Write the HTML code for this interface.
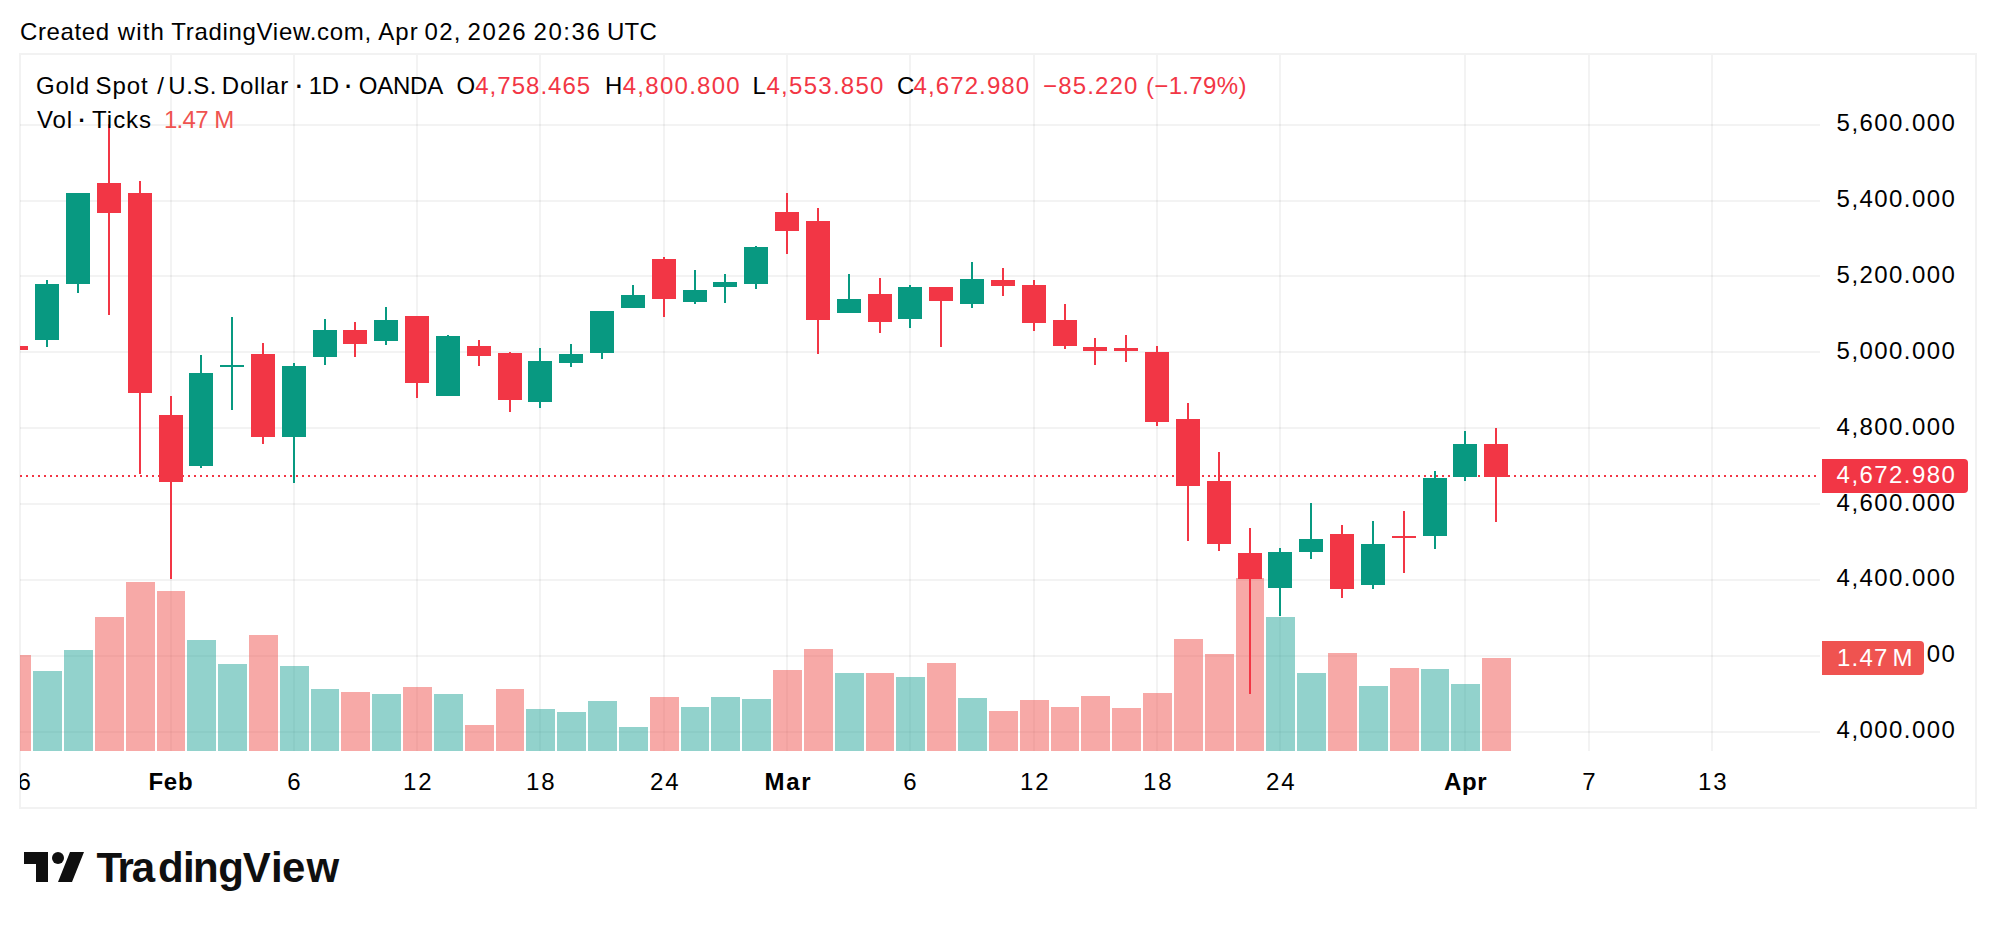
<!DOCTYPE html>
<html lang="en"><head><meta charset="utf-8"><title>XAUUSD chart</title>
<style>
html,body{margin:0;padding:0;background:#fff;}
body{width:1996px;height:928px;overflow:hidden;position:relative;}
svg{position:absolute;left:0;top:0;display:block;}
text{font-family:"Liberation Sans",sans-serif;font-size:24px;fill:#000;}
.r{fill:#F23645}.g{fill:#089981}.vr{fill:rgba(239,83,80,0.5)}.vg{fill:rgba(38,166,154,0.5)}.gr{fill:rgba(46,46,46,0.06)}
.tr{fill:#F23645}.tv{fill:#EF5350}.w{fill:#fff}.b{font-weight:bold}
</style></head><body>
<svg width="1996" height="928" viewBox="0 0 1996 928">
<defs><clipPath id="c42"><rect x="1926" y="630" width="60" height="50"/></clipPath><clipPath id="pane"><rect x="20" y="55" width="1800" height="696"/></clipPath></defs>
<g shape-rendering="crispEdges">
<path fill="#F2F2F2" fill-rule="evenodd" d="M19 53H1977V809H19Z M21 55V807H1975V55Z"/>
<g class="gr">
<rect x="20" y="124" width="1800" height="2"/>
<rect x="20" y="200" width="1800" height="2"/>
<rect x="20" y="275" width="1800" height="2"/>
<rect x="20" y="351" width="1800" height="2"/>
<rect x="20" y="427" width="1800" height="2"/>
<rect x="20" y="503" width="1800" height="2"/>
<rect x="20" y="579" width="1800" height="2"/>
<rect x="20" y="655" width="1800" height="2"/>
<rect x="20" y="731" width="1800" height="2"/>
<rect x="170" y="55" width="2" height="696"/>
<rect x="293" y="55" width="2" height="696"/>
<rect x="416" y="55" width="2" height="696"/>
<rect x="539" y="55" width="2" height="696"/>
<rect x="663" y="55" width="2" height="696"/>
<rect x="786" y="55" width="2" height="696"/>
<rect x="909" y="55" width="2" height="696"/>
<rect x="1033" y="55" width="2" height="696"/>
<rect x="1156" y="55" width="2" height="696"/>
<rect x="1279" y="55" width="2" height="696"/>
<rect x="1464" y="55" width="2" height="696"/>
<rect x="1588" y="55" width="2" height="696"/>
<rect x="1711" y="55" width="2" height="696"/>
</g>
<g clip-path="url(#pane)">
<rect class="vr" x="2" y="655" width="29" height="96"/>
<rect class="vg" x="33" y="671" width="29" height="80"/>
<rect class="vg" x="64" y="650" width="29" height="101"/>
<rect class="vr" x="95" y="617" width="29" height="134"/>
<rect class="vr" x="126" y="582" width="29" height="169"/>
<rect class="vr" x="157" y="591" width="28" height="160"/>
<rect class="vg" x="187" y="640" width="29" height="111"/>
<rect class="vg" x="218" y="664" width="29" height="87"/>
<rect class="vr" x="249" y="635" width="29" height="116"/>
<rect class="vg" x="280" y="666" width="29" height="85"/>
<rect class="vg" x="311" y="689" width="28" height="62"/>
<rect class="vr" x="341" y="692" width="29" height="59"/>
<rect class="vg" x="372" y="694" width="29" height="57"/>
<rect class="vr" x="403" y="687" width="29" height="64"/>
<rect class="vg" x="434" y="694" width="29" height="57"/>
<rect class="vr" x="465" y="725" width="29" height="26"/>
<rect class="vr" x="496" y="689" width="28" height="62"/>
<rect class="vg" x="526" y="709" width="29" height="42"/>
<rect class="vg" x="557" y="712" width="29" height="39"/>
<rect class="vg" x="588" y="701" width="29" height="50"/>
<rect class="vg" x="619" y="727" width="29" height="24"/>
<rect class="vr" x="650" y="697" width="29" height="54"/>
<rect class="vg" x="681" y="707" width="28" height="44"/>
<rect class="vg" x="711" y="697" width="29" height="54"/>
<rect class="vg" x="742" y="699" width="29" height="52"/>
<rect class="vr" x="773" y="670" width="29" height="81"/>
<rect class="vr" x="804" y="649" width="29" height="102"/>
<rect class="vg" x="835" y="673" width="29" height="78"/>
<rect class="vr" x="866" y="673" width="28" height="78"/>
<rect class="vg" x="896" y="677" width="29" height="74"/>
<rect class="vr" x="927" y="663" width="29" height="88"/>
<rect class="vg" x="958" y="698" width="29" height="53"/>
<rect class="vr" x="989" y="711" width="29" height="40"/>
<rect class="vr" x="1020" y="700" width="29" height="51"/>
<rect class="vr" x="1051" y="707" width="28" height="44"/>
<rect class="vr" x="1081" y="696" width="29" height="55"/>
<rect class="vr" x="1112" y="708" width="29" height="43"/>
<rect class="vr" x="1143" y="693" width="29" height="58"/>
<rect class="vr" x="1174" y="639" width="29" height="112"/>
<rect class="vr" x="1205" y="654" width="29" height="97"/>
<rect class="vr" x="1236" y="578" width="28" height="173"/>
<rect class="vg" x="1266" y="617" width="29" height="134"/>
<rect class="vg" x="1297" y="673" width="29" height="78"/>
<rect class="vr" x="1328" y="653" width="29" height="98"/>
<rect class="vg" x="1359" y="686" width="29" height="65"/>
<rect class="vr" x="1390" y="668" width="29" height="83"/>
<rect class="vg" x="1421" y="669" width="28" height="82"/>
<rect class="vg" x="1451" y="684" width="29" height="67"/>
<rect class="vr" x="1482" y="658" width="29" height="93"/>
</g>
<g class="r">
<rect x="20" y="475" width="2" height="2"/>
<rect x="26" y="475" width="2" height="2"/>
<rect x="32" y="475" width="2" height="2"/>
<rect x="38" y="475" width="2" height="2"/>
<rect x="44" y="475" width="2" height="2"/>
<rect x="50" y="475" width="2" height="2"/>
<rect x="56" y="475" width="2" height="2"/>
<rect x="62" y="475" width="2" height="2"/>
<rect x="68" y="475" width="2" height="2"/>
<rect x="74" y="475" width="2" height="2"/>
<rect x="80" y="475" width="2" height="2"/>
<rect x="86" y="475" width="2" height="2"/>
<rect x="92" y="475" width="2" height="2"/>
<rect x="98" y="475" width="2" height="2"/>
<rect x="104" y="475" width="2" height="2"/>
<rect x="110" y="475" width="2" height="2"/>
<rect x="116" y="475" width="2" height="2"/>
<rect x="122" y="475" width="2" height="2"/>
<rect x="128" y="475" width="2" height="2"/>
<rect x="134" y="475" width="2" height="2"/>
<rect x="140" y="475" width="2" height="2"/>
<rect x="146" y="475" width="2" height="2"/>
<rect x="152" y="475" width="2" height="2"/>
<rect x="158" y="475" width="2" height="2"/>
<rect x="164" y="475" width="2" height="2"/>
<rect x="170" y="475" width="2" height="2"/>
<rect x="176" y="475" width="2" height="2"/>
<rect x="182" y="475" width="2" height="2"/>
<rect x="188" y="475" width="2" height="2"/>
<rect x="194" y="475" width="2" height="2"/>
<rect x="200" y="475" width="2" height="2"/>
<rect x="206" y="475" width="2" height="2"/>
<rect x="212" y="475" width="2" height="2"/>
<rect x="218" y="475" width="2" height="2"/>
<rect x="224" y="475" width="2" height="2"/>
<rect x="230" y="475" width="2" height="2"/>
<rect x="236" y="475" width="2" height="2"/>
<rect x="242" y="475" width="2" height="2"/>
<rect x="248" y="475" width="2" height="2"/>
<rect x="254" y="475" width="2" height="2"/>
<rect x="260" y="475" width="2" height="2"/>
<rect x="266" y="475" width="2" height="2"/>
<rect x="272" y="475" width="2" height="2"/>
<rect x="278" y="475" width="2" height="2"/>
<rect x="284" y="475" width="2" height="2"/>
<rect x="290" y="475" width="2" height="2"/>
<rect x="296" y="475" width="2" height="2"/>
<rect x="302" y="475" width="2" height="2"/>
<rect x="308" y="475" width="2" height="2"/>
<rect x="314" y="475" width="2" height="2"/>
<rect x="320" y="475" width="2" height="2"/>
<rect x="326" y="475" width="2" height="2"/>
<rect x="332" y="475" width="2" height="2"/>
<rect x="338" y="475" width="2" height="2"/>
<rect x="344" y="475" width="2" height="2"/>
<rect x="350" y="475" width="2" height="2"/>
<rect x="356" y="475" width="2" height="2"/>
<rect x="362" y="475" width="2" height="2"/>
<rect x="368" y="475" width="2" height="2"/>
<rect x="374" y="475" width="2" height="2"/>
<rect x="380" y="475" width="2" height="2"/>
<rect x="386" y="475" width="2" height="2"/>
<rect x="392" y="475" width="2" height="2"/>
<rect x="398" y="475" width="2" height="2"/>
<rect x="404" y="475" width="2" height="2"/>
<rect x="410" y="475" width="2" height="2"/>
<rect x="416" y="475" width="2" height="2"/>
<rect x="422" y="475" width="2" height="2"/>
<rect x="428" y="475" width="2" height="2"/>
<rect x="434" y="475" width="2" height="2"/>
<rect x="440" y="475" width="2" height="2"/>
<rect x="446" y="475" width="2" height="2"/>
<rect x="452" y="475" width="2" height="2"/>
<rect x="458" y="475" width="2" height="2"/>
<rect x="464" y="475" width="2" height="2"/>
<rect x="470" y="475" width="2" height="2"/>
<rect x="476" y="475" width="2" height="2"/>
<rect x="482" y="475" width="2" height="2"/>
<rect x="488" y="475" width="2" height="2"/>
<rect x="494" y="475" width="2" height="2"/>
<rect x="500" y="475" width="2" height="2"/>
<rect x="506" y="475" width="2" height="2"/>
<rect x="512" y="475" width="2" height="2"/>
<rect x="518" y="475" width="2" height="2"/>
<rect x="524" y="475" width="2" height="2"/>
<rect x="530" y="475" width="2" height="2"/>
<rect x="536" y="475" width="2" height="2"/>
<rect x="542" y="475" width="2" height="2"/>
<rect x="548" y="475" width="2" height="2"/>
<rect x="554" y="475" width="2" height="2"/>
<rect x="560" y="475" width="2" height="2"/>
<rect x="566" y="475" width="2" height="2"/>
<rect x="572" y="475" width="2" height="2"/>
<rect x="578" y="475" width="2" height="2"/>
<rect x="584" y="475" width="2" height="2"/>
<rect x="590" y="475" width="2" height="2"/>
<rect x="596" y="475" width="2" height="2"/>
<rect x="602" y="475" width="2" height="2"/>
<rect x="608" y="475" width="2" height="2"/>
<rect x="614" y="475" width="2" height="2"/>
<rect x="620" y="475" width="2" height="2"/>
<rect x="626" y="475" width="2" height="2"/>
<rect x="632" y="475" width="2" height="2"/>
<rect x="638" y="475" width="2" height="2"/>
<rect x="644" y="475" width="2" height="2"/>
<rect x="650" y="475" width="2" height="2"/>
<rect x="656" y="475" width="2" height="2"/>
<rect x="662" y="475" width="2" height="2"/>
<rect x="668" y="475" width="2" height="2"/>
<rect x="674" y="475" width="2" height="2"/>
<rect x="680" y="475" width="2" height="2"/>
<rect x="686" y="475" width="2" height="2"/>
<rect x="692" y="475" width="2" height="2"/>
<rect x="698" y="475" width="2" height="2"/>
<rect x="704" y="475" width="2" height="2"/>
<rect x="710" y="475" width="2" height="2"/>
<rect x="716" y="475" width="2" height="2"/>
<rect x="722" y="475" width="2" height="2"/>
<rect x="728" y="475" width="2" height="2"/>
<rect x="734" y="475" width="2" height="2"/>
<rect x="740" y="475" width="2" height="2"/>
<rect x="746" y="475" width="2" height="2"/>
<rect x="752" y="475" width="2" height="2"/>
<rect x="758" y="475" width="2" height="2"/>
<rect x="764" y="475" width="2" height="2"/>
<rect x="770" y="475" width="2" height="2"/>
<rect x="776" y="475" width="2" height="2"/>
<rect x="782" y="475" width="2" height="2"/>
<rect x="788" y="475" width="2" height="2"/>
<rect x="794" y="475" width="2" height="2"/>
<rect x="800" y="475" width="2" height="2"/>
<rect x="806" y="475" width="2" height="2"/>
<rect x="812" y="475" width="2" height="2"/>
<rect x="818" y="475" width="2" height="2"/>
<rect x="824" y="475" width="2" height="2"/>
<rect x="830" y="475" width="2" height="2"/>
<rect x="836" y="475" width="2" height="2"/>
<rect x="842" y="475" width="2" height="2"/>
<rect x="848" y="475" width="2" height="2"/>
<rect x="854" y="475" width="2" height="2"/>
<rect x="860" y="475" width="2" height="2"/>
<rect x="866" y="475" width="2" height="2"/>
<rect x="872" y="475" width="2" height="2"/>
<rect x="878" y="475" width="2" height="2"/>
<rect x="884" y="475" width="2" height="2"/>
<rect x="890" y="475" width="2" height="2"/>
<rect x="896" y="475" width="2" height="2"/>
<rect x="902" y="475" width="2" height="2"/>
<rect x="908" y="475" width="2" height="2"/>
<rect x="914" y="475" width="2" height="2"/>
<rect x="920" y="475" width="2" height="2"/>
<rect x="926" y="475" width="2" height="2"/>
<rect x="932" y="475" width="2" height="2"/>
<rect x="938" y="475" width="2" height="2"/>
<rect x="944" y="475" width="2" height="2"/>
<rect x="950" y="475" width="2" height="2"/>
<rect x="956" y="475" width="2" height="2"/>
<rect x="962" y="475" width="2" height="2"/>
<rect x="968" y="475" width="2" height="2"/>
<rect x="974" y="475" width="2" height="2"/>
<rect x="980" y="475" width="2" height="2"/>
<rect x="986" y="475" width="2" height="2"/>
<rect x="992" y="475" width="2" height="2"/>
<rect x="998" y="475" width="2" height="2"/>
<rect x="1004" y="475" width="2" height="2"/>
<rect x="1010" y="475" width="2" height="2"/>
<rect x="1016" y="475" width="2" height="2"/>
<rect x="1022" y="475" width="2" height="2"/>
<rect x="1028" y="475" width="2" height="2"/>
<rect x="1034" y="475" width="2" height="2"/>
<rect x="1040" y="475" width="2" height="2"/>
<rect x="1046" y="475" width="2" height="2"/>
<rect x="1052" y="475" width="2" height="2"/>
<rect x="1058" y="475" width="2" height="2"/>
<rect x="1064" y="475" width="2" height="2"/>
<rect x="1070" y="475" width="2" height="2"/>
<rect x="1076" y="475" width="2" height="2"/>
<rect x="1082" y="475" width="2" height="2"/>
<rect x="1088" y="475" width="2" height="2"/>
<rect x="1094" y="475" width="2" height="2"/>
<rect x="1100" y="475" width="2" height="2"/>
<rect x="1106" y="475" width="2" height="2"/>
<rect x="1112" y="475" width="2" height="2"/>
<rect x="1118" y="475" width="2" height="2"/>
<rect x="1124" y="475" width="2" height="2"/>
<rect x="1130" y="475" width="2" height="2"/>
<rect x="1136" y="475" width="2" height="2"/>
<rect x="1142" y="475" width="2" height="2"/>
<rect x="1148" y="475" width="2" height="2"/>
<rect x="1154" y="475" width="2" height="2"/>
<rect x="1160" y="475" width="2" height="2"/>
<rect x="1166" y="475" width="2" height="2"/>
<rect x="1172" y="475" width="2" height="2"/>
<rect x="1178" y="475" width="2" height="2"/>
<rect x="1184" y="475" width="2" height="2"/>
<rect x="1190" y="475" width="2" height="2"/>
<rect x="1196" y="475" width="2" height="2"/>
<rect x="1202" y="475" width="2" height="2"/>
<rect x="1208" y="475" width="2" height="2"/>
<rect x="1214" y="475" width="2" height="2"/>
<rect x="1220" y="475" width="2" height="2"/>
<rect x="1226" y="475" width="2" height="2"/>
<rect x="1232" y="475" width="2" height="2"/>
<rect x="1238" y="475" width="2" height="2"/>
<rect x="1244" y="475" width="2" height="2"/>
<rect x="1250" y="475" width="2" height="2"/>
<rect x="1256" y="475" width="2" height="2"/>
<rect x="1262" y="475" width="2" height="2"/>
<rect x="1268" y="475" width="2" height="2"/>
<rect x="1274" y="475" width="2" height="2"/>
<rect x="1280" y="475" width="2" height="2"/>
<rect x="1286" y="475" width="2" height="2"/>
<rect x="1292" y="475" width="2" height="2"/>
<rect x="1298" y="475" width="2" height="2"/>
<rect x="1304" y="475" width="2" height="2"/>
<rect x="1310" y="475" width="2" height="2"/>
<rect x="1316" y="475" width="2" height="2"/>
<rect x="1322" y="475" width="2" height="2"/>
<rect x="1328" y="475" width="2" height="2"/>
<rect x="1334" y="475" width="2" height="2"/>
<rect x="1340" y="475" width="2" height="2"/>
<rect x="1346" y="475" width="2" height="2"/>
<rect x="1352" y="475" width="2" height="2"/>
<rect x="1358" y="475" width="2" height="2"/>
<rect x="1364" y="475" width="2" height="2"/>
<rect x="1370" y="475" width="2" height="2"/>
<rect x="1376" y="475" width="2" height="2"/>
<rect x="1382" y="475" width="2" height="2"/>
<rect x="1388" y="475" width="2" height="2"/>
<rect x="1394" y="475" width="2" height="2"/>
<rect x="1400" y="475" width="2" height="2"/>
<rect x="1406" y="475" width="2" height="2"/>
<rect x="1412" y="475" width="2" height="2"/>
<rect x="1418" y="475" width="2" height="2"/>
<rect x="1424" y="475" width="2" height="2"/>
<rect x="1430" y="475" width="2" height="2"/>
<rect x="1436" y="475" width="2" height="2"/>
<rect x="1442" y="475" width="2" height="2"/>
<rect x="1448" y="475" width="2" height="2"/>
<rect x="1454" y="475" width="2" height="2"/>
<rect x="1460" y="475" width="2" height="2"/>
<rect x="1466" y="475" width="2" height="2"/>
<rect x="1472" y="475" width="2" height="2"/>
<rect x="1478" y="475" width="2" height="2"/>
<rect x="1484" y="475" width="2" height="2"/>
<rect x="1490" y="475" width="2" height="2"/>
<rect x="1496" y="475" width="2" height="2"/>
<rect x="1502" y="475" width="2" height="2"/>
<rect x="1508" y="475" width="2" height="2"/>
<rect x="1514" y="475" width="2" height="2"/>
<rect x="1520" y="475" width="2" height="2"/>
<rect x="1526" y="475" width="2" height="2"/>
<rect x="1532" y="475" width="2" height="2"/>
<rect x="1538" y="475" width="2" height="2"/>
<rect x="1544" y="475" width="2" height="2"/>
<rect x="1550" y="475" width="2" height="2"/>
<rect x="1556" y="475" width="2" height="2"/>
<rect x="1562" y="475" width="2" height="2"/>
<rect x="1568" y="475" width="2" height="2"/>
<rect x="1574" y="475" width="2" height="2"/>
<rect x="1580" y="475" width="2" height="2"/>
<rect x="1586" y="475" width="2" height="2"/>
<rect x="1592" y="475" width="2" height="2"/>
<rect x="1598" y="475" width="2" height="2"/>
<rect x="1604" y="475" width="2" height="2"/>
<rect x="1610" y="475" width="2" height="2"/>
<rect x="1616" y="475" width="2" height="2"/>
<rect x="1622" y="475" width="2" height="2"/>
<rect x="1628" y="475" width="2" height="2"/>
<rect x="1634" y="475" width="2" height="2"/>
<rect x="1640" y="475" width="2" height="2"/>
<rect x="1646" y="475" width="2" height="2"/>
<rect x="1652" y="475" width="2" height="2"/>
<rect x="1658" y="475" width="2" height="2"/>
<rect x="1664" y="475" width="2" height="2"/>
<rect x="1670" y="475" width="2" height="2"/>
<rect x="1676" y="475" width="2" height="2"/>
<rect x="1682" y="475" width="2" height="2"/>
<rect x="1688" y="475" width="2" height="2"/>
<rect x="1694" y="475" width="2" height="2"/>
<rect x="1700" y="475" width="2" height="2"/>
<rect x="1706" y="475" width="2" height="2"/>
<rect x="1712" y="475" width="2" height="2"/>
<rect x="1718" y="475" width="2" height="2"/>
<rect x="1724" y="475" width="2" height="2"/>
<rect x="1730" y="475" width="2" height="2"/>
<rect x="1736" y="475" width="2" height="2"/>
<rect x="1742" y="475" width="2" height="2"/>
<rect x="1748" y="475" width="2" height="2"/>
<rect x="1754" y="475" width="2" height="2"/>
<rect x="1760" y="475" width="2" height="2"/>
<rect x="1766" y="475" width="2" height="2"/>
<rect x="1772" y="475" width="2" height="2"/>
<rect x="1778" y="475" width="2" height="2"/>
<rect x="1784" y="475" width="2" height="2"/>
<rect x="1790" y="475" width="2" height="2"/>
<rect x="1796" y="475" width="2" height="2"/>
<rect x="1802" y="475" width="2" height="2"/>
<rect x="1808" y="475" width="2" height="2"/>
<rect x="1814" y="475" width="2" height="2"/>
</g>
<g clip-path="url(#pane)">
<rect class="r" x="4" y="346" width="24" height="4"/>
<rect class="g" x="46" y="280" width="2" height="67"/>
<rect class="g" x="35" y="284" width="24" height="56"/>
<rect class="g" x="77" y="193" width="2" height="100"/>
<rect class="g" x="66" y="193" width="24" height="91"/>
<rect class="r" x="108" y="124" width="2" height="191"/>
<rect class="r" x="97" y="183" width="24" height="30"/>
<rect class="r" x="139" y="181" width="2" height="293"/>
<rect class="r" x="128" y="193" width="24" height="200"/>
<rect class="r" x="170" y="396" width="2" height="183"/>
<rect class="r" x="159" y="415" width="24" height="67"/>
<rect class="g" x="200" y="355" width="2" height="113"/>
<rect class="g" x="189" y="373" width="24" height="93"/>
<rect class="g" x="231" y="317" width="2" height="93"/>
<rect class="g" x="220" y="365" width="24" height="2"/>
<rect class="r" x="262" y="343" width="2" height="101"/>
<rect class="r" x="251" y="354" width="24" height="83"/>
<rect class="g" x="293" y="363" width="2" height="120"/>
<rect class="g" x="282" y="366" width="24" height="71"/>
<rect class="g" x="324" y="319" width="2" height="46"/>
<rect class="g" x="313" y="330" width="24" height="27"/>
<rect class="r" x="354" y="322" width="2" height="35"/>
<rect class="r" x="343" y="330" width="24" height="14"/>
<rect class="g" x="385" y="307" width="2" height="38"/>
<rect class="g" x="374" y="320" width="24" height="21"/>
<rect class="r" x="416" y="316" width="2" height="82"/>
<rect class="r" x="405" y="316" width="24" height="67"/>
<rect class="g" x="447" y="335" width="2" height="61"/>
<rect class="g" x="436" y="336" width="24" height="60"/>
<rect class="r" x="478" y="340" width="2" height="26"/>
<rect class="r" x="467" y="346" width="24" height="10"/>
<rect class="r" x="509" y="352" width="2" height="60"/>
<rect class="r" x="498" y="353" width="24" height="47"/>
<rect class="g" x="539" y="348" width="2" height="60"/>
<rect class="g" x="528" y="361" width="24" height="41"/>
<rect class="g" x="570" y="344" width="2" height="23"/>
<rect class="g" x="559" y="354" width="24" height="9"/>
<rect class="g" x="601" y="311" width="2" height="48"/>
<rect class="g" x="590" y="311" width="24" height="42"/>
<rect class="g" x="632" y="285" width="2" height="23"/>
<rect class="g" x="621" y="295" width="24" height="13"/>
<rect class="r" x="663" y="257" width="2" height="60"/>
<rect class="r" x="652" y="259" width="24" height="40"/>
<rect class="g" x="694" y="270" width="2" height="34"/>
<rect class="g" x="683" y="290" width="24" height="12"/>
<rect class="g" x="724" y="274" width="2" height="29"/>
<rect class="g" x="713" y="282" width="24" height="5"/>
<rect class="g" x="755" y="246" width="2" height="43"/>
<rect class="g" x="744" y="247" width="24" height="37"/>
<rect class="r" x="786" y="193" width="2" height="61"/>
<rect class="r" x="775" y="212" width="24" height="19"/>
<rect class="r" x="817" y="208" width="2" height="146"/>
<rect class="r" x="806" y="221" width="24" height="99"/>
<rect class="g" x="848" y="274" width="2" height="39"/>
<rect class="g" x="837" y="299" width="24" height="14"/>
<rect class="r" x="879" y="278" width="2" height="55"/>
<rect class="r" x="868" y="294" width="24" height="28"/>
<rect class="g" x="909" y="285" width="2" height="43"/>
<rect class="g" x="898" y="287" width="24" height="32"/>
<rect class="r" x="940" y="287" width="2" height="60"/>
<rect class="r" x="929" y="287" width="24" height="14"/>
<rect class="g" x="971" y="262" width="2" height="46"/>
<rect class="g" x="960" y="279" width="24" height="25"/>
<rect class="r" x="1002" y="268" width="2" height="28"/>
<rect class="r" x="991" y="280" width="24" height="6"/>
<rect class="r" x="1033" y="280" width="2" height="51"/>
<rect class="r" x="1022" y="285" width="24" height="38"/>
<rect class="r" x="1064" y="304" width="2" height="45"/>
<rect class="r" x="1053" y="320" width="24" height="26"/>
<rect class="r" x="1094" y="338" width="2" height="27"/>
<rect class="r" x="1083" y="347" width="24" height="4"/>
<rect class="r" x="1125" y="335" width="2" height="27"/>
<rect class="r" x="1114" y="348" width="24" height="3"/>
<rect class="r" x="1156" y="346" width="2" height="80"/>
<rect class="r" x="1145" y="352" width="24" height="70"/>
<rect class="r" x="1187" y="403" width="2" height="138"/>
<rect class="r" x="1176" y="419" width="24" height="67"/>
<rect class="r" x="1218" y="452" width="2" height="99"/>
<rect class="r" x="1207" y="481" width="24" height="63"/>
<rect class="r" x="1249" y="528" width="2" height="166"/>
<rect class="r" x="1238" y="553" width="24" height="26"/>
<rect class="g" x="1279" y="548" width="2" height="68"/>
<rect class="g" x="1268" y="552" width="24" height="36"/>
<rect class="g" x="1310" y="503" width="2" height="56"/>
<rect class="g" x="1299" y="539" width="24" height="13"/>
<rect class="r" x="1341" y="525" width="2" height="73"/>
<rect class="r" x="1330" y="534" width="24" height="55"/>
<rect class="g" x="1372" y="521" width="2" height="68"/>
<rect class="g" x="1361" y="544" width="24" height="41"/>
<rect class="r" x="1403" y="511" width="2" height="62"/>
<rect class="r" x="1392" y="536" width="24" height="2"/>
<rect class="g" x="1434" y="471" width="2" height="78"/>
<rect class="g" x="1423" y="478" width="24" height="58"/>
<rect class="g" x="1464" y="431" width="2" height="50"/>
<rect class="g" x="1453" y="444" width="24" height="33"/>
<rect class="r" x="1495" y="428" width="2" height="94"/>
<rect class="r" x="1484" y="444" width="24" height="33"/>
</g>
</g>
<text x="1836.6" y="131.0" textLength="118.3">5,600.000</text>
<text x="1836.6" y="206.9" textLength="118.3">5,400.000</text>
<text x="1836.6" y="282.8" textLength="118.3">5,200.000</text>
<text x="1836.6" y="358.7" textLength="118.3">5,000.000</text>
<text x="1836.6" y="434.6" textLength="118.3">4,800.000</text>
<text x="1836.6" y="510.5" textLength="118.3">4,600.000</text>
<text x="1836.6" y="586.4" textLength="118.3">4,400.000</text>
<text x="1836.6" y="662.3" textLength="118.3" clip-path="url(#c42)">4,200.000</text>
<text x="1836.6" y="738.2" textLength="118.3">4,000.000</text>
<path fill="#F23645" d="M1822 459H1964a4 4 0 0 1 4 4V489a4 4 0 0 1 -4 4H1822Z"/>
<text class="w" x="1836.6" y="483.3" textLength="118.3">4,672.980</text>
<path fill="#EF5350" d="M1822 641H1920a4 4 0 0 1 4 4V671a4 4 0 0 1 -4 4H1822Z"/>
<g clip-path="url(#axisclip)">
<defs><clipPath id="axisclip"><rect x="20" y="752" width="1800" height="55"/></clipPath></defs>
<text x="17.5" y="790" text-anchor="middle">26</text>
<text x="170.5" y="790" text-anchor="middle" textLength="44.2" class="b">Feb</text>
<text x="294" y="790" text-anchor="middle">6</text>
<text x="417.3" y="790" text-anchor="middle" textLength="28.7">12</text>
<text x="540.3" y="790" text-anchor="middle" textLength="28.7">18</text>
<text x="664.3" y="790" text-anchor="middle" textLength="28.7">24</text>
<text x="787.6" y="790" text-anchor="middle" textLength="46.0" class="b">Mar</text>
<text x="910" y="790" text-anchor="middle">6</text>
<text x="1034.3" y="790" text-anchor="middle" textLength="28.7">12</text>
<text x="1157.3" y="790" text-anchor="middle" textLength="28.7">18</text>
<text x="1280.3" y="790" text-anchor="middle" textLength="28.7">24</text>
<text x="1465.3" y="790" text-anchor="middle" textLength="42.5" class="b">Apr</text>
<text x="1589" y="790" text-anchor="middle">7</text>
<text x="1712.3" y="790" text-anchor="middle" textLength="28.7">13</text>
</g>
<text><tspan x="19.90" y="40" textLength="89.25">Created</tspan> <tspan x="117.80" y="40" textLength="46.11">with</tspan> <tspan x="171.30" y="40" textLength="199.75">TradingView.com,</tspan> <tspan x="378.30" y="40" textLength="39.49">Apr</tspan> <tspan x="424.60" y="40" textLength="35.89">02,</tspan> <tspan x="467.50" y="40" textLength="58.22">2026</tspan> <tspan x="533.50" y="40" textLength="66.30">20:36</tspan> <tspan x="606.90" y="40" textLength="49.96">UTC</tspan></text>
<text><tspan x="36.00" y="94" textLength="53.01">Gold</tspan> <tspan x="95.60" y="94" textLength="52.11">Spot</tspan> <tspan x="157.15" y="94">/</tspan> <tspan x="168.30" y="94" textLength="48.23">U.S.</tspan> <tspan x="221.80" y="94" textLength="66.41">Dollar</tspan> <tspan x="293.40" y="95.2" style="font-size:32px">·</tspan> <tspan x="308.70" y="94" textLength="30.49">1D</tspan> <tspan x="342.80" y="95.2" style="font-size:32px">·</tspan> <tspan x="358.70" y="94" textLength="83.12">OANDA</tspan> <tspan x="456.50" y="94">O</tspan> <tspan x="475.20" y="94" textLength="115.01" class="tr">4,758.465</tspan> <tspan x="604.95" y="94">H</tspan> <tspan x="622.70" y="94" textLength="117.02" class="tr">4,800.800</tspan> <tspan x="752.50" y="94">L</tspan> <tspan x="766.50" y="94" textLength="116.96" class="tr">4,553.850</tspan> <tspan x="896.90" y="94">C</tspan> <tspan x="913.50" y="94" textLength="115.66" class="tr">4,672.980</tspan> <tspan x="1043.00" y="94" textLength="94.41" class="tr">−85.220</tspan> <tspan x="1146.00" y="94" textLength="100.41" class="tr">(−1.79%)</tspan></text>
<text><tspan x="37.00" y="128" textLength="35.19">Vol</tspan> <tspan x="76.30" y="129.2" style="font-size:32px">·</tspan> <tspan x="92.10" y="128" textLength="58.98">Ticks</tspan> <tspan x="163.90" y="128" textLength="44.68" class="tv">1.47</tspan> <tspan x="214.20" y="128" class="tv">M</tspan></text>
<text><tspan x="1836.90" y="666" textLength="50.43" class="w">1.47</tspan> <tspan x="1892.45" y="666" class="w">M</tspan></text>
<path fill="#0F0F0F" d="M24 852H48V882H36V864H24Z M70 852H84L72 882H58Z"/><circle fill="#0F0F0F" cx="58" cy="858" r="6"/>
<text x="96.4 117.6 131.8 157.9 183.0 192.9 218.2 242.8 270.9 282.1 306.4" y="882" style="font-size:42px;font-weight:bold;fill:#0F0F0F">TradingView</text>
</svg>
</body></html>
